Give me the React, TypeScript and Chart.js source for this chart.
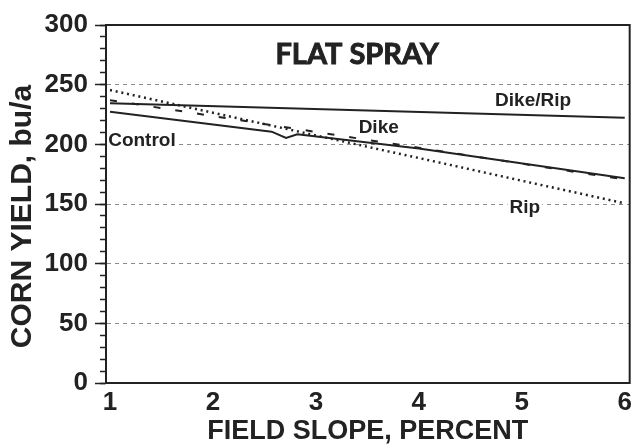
import React, { useEffect, useRef } from 'react';
import { Chart, registerables } from 'chart.js';

Chart.register(...registerables);

// ---- data ----
const slopeEnds = [1, 6];
const dikeRipYield = [234.5, 222.3];
const dikeYield = [237, 170.5];
const ripYield = [245.5, 150.5];
const controlSlope = [1, 2.57, 2.71, 2.82, 4.0, 6];
const controlYield = [227.4, 210.6, 205.3, 208.4, 196.5, 171.5];

const xTickValues = [1, 2, 3, 4, 5, 6];
const yMin = 0;
const yMax = 300;
const yMajorStep = 50;
const yMinorStep = 10;

const noteText = ['FLAT SPRAY', 'Dike/Rip', 'Dike', 'Control', 'Rip'];
const noteSlope = [3.4, 5.11, 3.61, 1.31, 5.03];
const noteYield = [276, 237, 215, 204, 148];

const xTitle = 'FIELD SLOPE, PERCENT';
const yTitle = 'CORN YIELD, bu/a';

const INK = '#222222';
const SANS = "'Liberation Sans', Arial, Helvetica, sans-serif";

const toPoints = (xs: number[], ys: number[]) => xs.map((x, i) => ({ x, y: ys[i] }));

const notesPlugin = {
  id: 'notes',
  afterDatasetsDraw(chart: any) {
    const { ctx, scales } = chart;
    const xs = scales.x;
    const ys = scales.y;
    ctx.save();
    ctx.textAlign = 'center';
    ctx.textBaseline = 'middle';
    noteText.forEach((t, i) => {
      const px = xs.getPixelForValue(noteSlope[i]);
      const py = ys.getPixelForValue(noteYield[i]);
      const isTitle = i === 0;
      ctx.font = isTitle ? "bold 29px Lato, 'Open Sans', sans-serif" : `bold 19px ${SANS}`;
      if (!isTitle) {
        const w = ctx.measureText(t).width;
        ctx.fillStyle = '#ffffff';
        ctx.fillRect(px - w / 2 - 2, py - 9, w + 4, 18);
      }
      ctx.fillStyle = INK;
      ctx.fillText(t, px, py + 1);
      if (isTitle) {
        ctx.strokeStyle = INK;
        ctx.lineWidth = 0.9;
        ctx.strokeText(t, px, py + 1);
      }
    });
    ctx.restore();
  },
};

const framePlugin = {
  id: 'frame',
  afterDraw(chart: any) {
    const { ctx, chartArea } = chart;
    ctx.save();
    ctx.strokeStyle = INK;
    ctx.lineWidth = 2;
    ctx.strokeRect(chartArea.left, chartArea.top, chartArea.right - chartArea.left, chartArea.bottom - chartArea.top);
    ctx.restore();
  },
};

export default function App() {
  const canvasRef = useRef<HTMLCanvasElement | null>(null);

  useEffect(() => {
    if (!canvasRef.current) return;
    const lineBase = {
      borderColor: INK,
      borderWidth: 2,
      pointRadius: 0,
      fill: false,
      tension: 0,
      xAxisID: 'x',
      yAxisID: 'y',
    };
    const chart = new Chart(canvasRef.current, {
      type: 'line',
      data: {
        datasets: [
          { ...lineBase, label: 'Dike/Rip', data: toPoints(slopeEnds, dikeRipYield) },
          { ...lineBase, label: 'Control', data: toPoints(controlSlope, controlYield) },
          { ...lineBase, label: 'Dike', data: toPoints(slopeEnds, dikeYield), borderDash: [7, 15] },
          { ...lineBase, label: 'Rip', data: toPoints(slopeEnds, ripYield), borderWidth: 2.5, borderDash: [2, 3.8] },
        ],
      },
      options: {
        animation: false,
        responsive: true,
        maintainAspectRatio: false,
        layout: { padding: { left: 0, top: 25, right: 3, bottom: 0 } },
        plugins: {
          legend: { display: false },
          title: { display: false },
          tooltip: { enabled: false },
        },
        scales: {
          x: {
            type: 'linear',
            position: 'bottom',
            min: 0.961,
            max: 6.048,
            afterBuildTicks: (scale: any) => {
              scale.ticks = xTickValues.map((v) => ({ value: v }));
            },
            afterFit: (scale: any) => {
              scale.height = 62;
            },
            grid: { display: false, drawTicks: false },
            border: { display: true, color: INK, width: 2 },
            ticks: {
              color: INK,
              padding: 4,
              autoSkip: false,
              maxRotation: 0,
              font: { family: SANS, size: 26, weight: 'bold' },
            },
            title: {
              display: true,
              text: xTitle,
              color: INK,
              font: { family: SANS, size: 27, weight: 'bold', lineHeight: 1 },
              padding: { top: 0, bottom: 0 },
            },
          },
          y: {
            type: 'linear',
            position: 'left',
            weight: 10,
            min: yMin,
            max: yMax,
            afterFit: (scale: any) => {
              scale.width = 106;
            },
            grid: {
              drawOnChartArea: true,
              drawTicks: true,
              tickLength: 11,
              lineWidth: 1,
              tickWidth: 1.5,
              tickColor: INK,
              tickBorderDash: [],
              color: (ctx: any) =>
                ctx.tick && ctx.tick.value > yMin && ctx.tick.value < yMax ? '#8a8a8a' : 'rgba(0,0,0,0)',
            },
            border: { display: true, color: INK, width: 2, dash: [4, 4] },
            ticks: {
              stepSize: yMajorStep,
              color: INK,
              padding: 7,
              autoSkip: false,
              font: { family: SANS, size: 26, weight: 'bold' },
            },
            title: {
              display: true,
              text: yTitle + '\u00a0\u00a0\u00a0',
              color: INK,
              font: { family: SANS, size: 30, weight: 'bold', lineHeight: 1 },
              padding: { top: 8, bottom: 0 },
            },
          },
          yMinor: {
            type: 'linear',
            position: 'left',
            weight: 0,
            min: yMin,
            max: yMax,
            afterFit: (scale: any) => {
              scale.width = 0;
            },
            grid: {
              drawOnChartArea: false,
              drawTicks: true,
              tickLength: 6,
              tickWidth: 1.5,
              tickColor: INK,
              color: 'rgba(0,0,0,0)',
            },
            border: { display: false },
            ticks: { display: false, stepSize: yMinorStep, autoSkip: false },
          },
        },
      },
      plugins: [notesPlugin, framePlugin],
    } as any);
    return () => chart.destroy();
  }, []);

  return (
    <div style={{ position: 'absolute', left: 0, top: 0, width: 636, height: 445, background: '#fff' }}>
      <canvas ref={canvasRef} />
    </div>
  );
}
